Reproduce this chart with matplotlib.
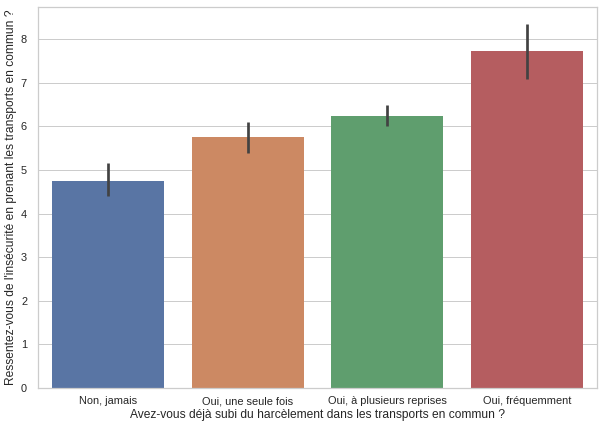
import colorsys
import matplotlib
matplotlib.use("Agg")
import matplotlib.pyplot as plt
from matplotlib.colors import to_rgb

categories = ["Non, jamais", "Oui, une seule fois", "Oui, à plusieurs reprises", "Oui, fréquemment"]
means = [4.75, 5.76, 6.24, 7.74]
ci_low = [4.40, 5.38, 6.01, 7.09]
ci_high = [5.15, 6.10, 6.50, 8.34]
base_colors = ["#4C72B0", "#DD8452", "#55A868", "#C44E52"]


def desaturate(c, prop=0.75):
    h, l, s = colorsys.rgb_to_hls(*to_rgb(c))
    return colorsys.hls_to_rgb(h, l, s * prop)


colors = [desaturate(c) for c in base_colors]

plt.rcParams["font.family"] = ["Liberation Sans", "DejaVu Sans"]
W, H = 602, 428
fig = plt.figure(figsize=(W / 72, H / 72), dpi=72)
ax = fig.add_axes([38 / W, (H - 388) / H, 559 / W, 381 / H])

x = range(len(categories))
ax.bar(x, means, width=0.8, color=colors, zorder=2)
ax.vlines(x, ci_low, ci_high, color="#424242", linewidth=2.7, zorder=3)

ax.set_xlim(-0.5, 3.5)
ax.set_ylim(0, 8.74)
ax.set_xticks(list(x))
ax.set_xticklabels(categories)
ax.set_yticks(range(0, 9))
ax.tick_params(length=0, labelsize=11, colors="#262626")
ax.tick_params(axis="x", pad=8)
ax.tick_params(axis="y", pad=11)
ax.grid(axis="y", color="#cccccc", linewidth=1, zorder=0)
ax.set_axisbelow(True)
for s in ax.spines.values():
    s.set_color("#cccccc")
    s.set_linewidth(1.25)

ax.set_xlabel("Avez-vous déjà subi du harcèlement dans les transports en commun ?",
              fontsize=12, color="#262626", labelpad=3)
ax.set_ylabel("Ressentez-vous de l'insécurité en prenant les transports en commun ?",
              fontsize=12, color="#262626", labelpad=4)

fig.savefig("out.png", dpi=72)
